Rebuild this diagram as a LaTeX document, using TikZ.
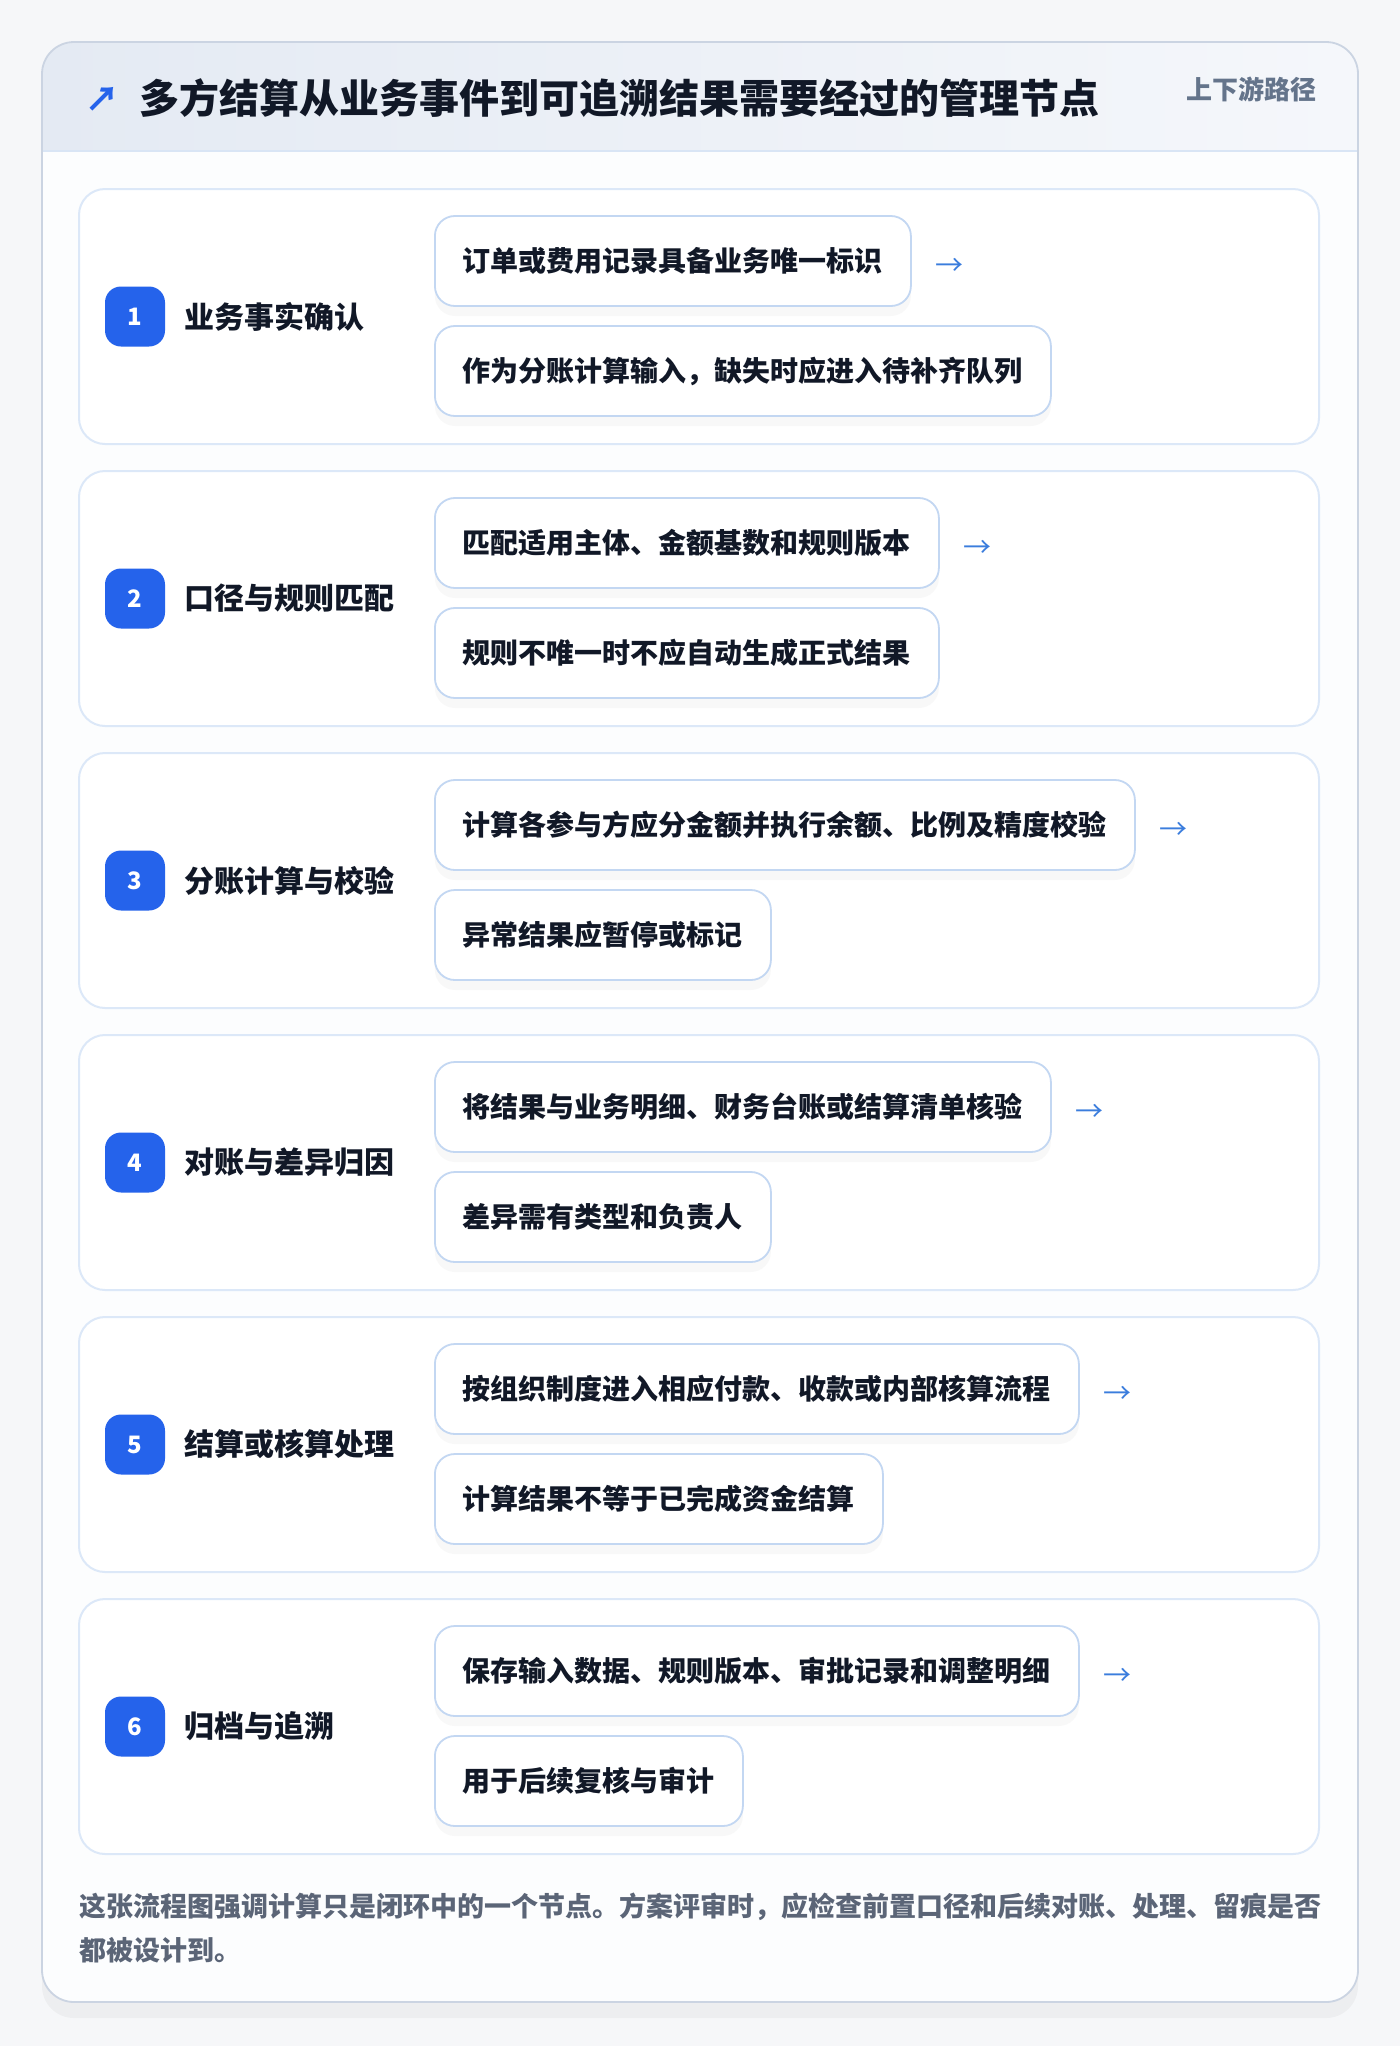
\documentclass[tikz,border=0pt]{standalone}
\usepackage{fontspec}
\setmainfont{Noto Sans CJK SC}
\usetikzlibrary{shadows}

\definecolor{pagebg}{HTML}{F6F7F9}
\definecolor{cardbg}{HTML}{FCFDFE}
\definecolor{cardline}{HTML}{CBD4E2}
\definecolor{headleft}{HTML}{E4EAF3}
\definecolor{headright}{HTML}{F5F7FB}
\definecolor{headline}{HTML}{D9E5F5}
\definecolor{ink}{HTML}{111827}
\definecolor{muted}{HTML}{64748B}
\definecolor{footink}{HTML}{5B6577}
\definecolor{badgeblue}{HTML}{2563EB}
\definecolor{arrowblue}{HTML}{3B7DDD}
\definecolor{stageline}{HTML}{DCE8F8}
\definecolor{boxline}{HTML}{C3D7F2}

\begin{document}
\begin{tikzpicture}[x=0.5pt,y=-0.5pt,
    stage/.style={draw=stageline,line width=1pt,fill=white,rounded corners=13pt,
        minimum width=620pt,minimum height=127.5pt},
    badge/.style={fill=badgeblue,rounded corners=8pt,minimum width=30pt,minimum height=30pt,
        inner sep=0pt,text=white,font=\bfseries\fontsize{12}{12}\selectfont},
    stagelabel/.style={anchor=west,inner sep=0pt,text=ink,font=\bfseries\fontsize{15}{15}\selectfont},
    item/.style={anchor=west,draw=boxline,line width=0.9pt,fill=white,rounded corners=10pt,
        minimum height=45pt,inner xsep=14pt,text=ink,font=\bfseries\fontsize{14}{14}\selectfont,
        drop shadow={opacity=0.05,shadow xshift=0pt,shadow yshift=-5pt}},
    flow/.style={anchor=west,inner sep=0pt,text=arrowblue,font=\fontsize{14}{14}\selectfont},
    note/.style={anchor=west,inner sep=0pt,text=footink,font=\bfseries\fontsize{13.5}{13.5}\selectfont}]

    \useasboundingbox (0,0) rectangle (1400,2046);
    \fill[pagebg] (0,0) rectangle (1400,2046);

    % outer card and header
    \path[fill=cardbg,rounded corners=16pt,
          drop shadow={opacity=0.07,shadow xshift=0pt,shadow yshift=-8pt}]
        (42,42) rectangle (1358,2002);
    \begin{scope}
        \clip[rounded corners=16pt] (42,42) rectangle (1358,2002);
        \shade[left color=headleft,right color=headright] (42,42) rectangle (1358,151);
        \draw[headline,line width=1pt] (42,151) -- (1358,151);
    \end{scope}
    \draw[cardline,line width=0.9pt,rounded corners=16pt] (42,42) rectangle (1358,2002);

    \node[anchor=center,inner sep=0pt,text=badgeblue,font=\bfseries\fontsize{17}{17}\selectfont]
        (icon) at (102,99) {↗};
    \node[anchor=west,inner sep=0pt,text=ink,font=\bfseries\fontsize{20}{20}\selectfont]
        (title) at (139,98) {多方结算从业务事件到可追溯结果需要经过的管理节点};
    \node[anchor=east,inner sep=0pt,text=muted,font=\bfseries\fontsize{13}{13}\selectfont]
        (route) at (1317,89) {上下游路径};

    % stage cards
    \node[stage] (S1) at (699,316.5) {};
    \node[stage] (S2) at (699,598.5) {};
    \node[stage] (S3) at (699,880.5) {};
    \node[stage] (S4) at (699,1162.5) {};
    \node[stage] (S5) at (699,1444.5) {};
    \node[stage] (S6) at (699,1726.5) {};

    % badges and stage names
    \node[badge] (N1) at (135,316.5) {1};
    \node[badge] (N2) at (135,598.5) {2};
    \node[badge] (N3) at (135,880.5) {3};
    \node[badge] (N4) at (135,1162.5) {4};
    \node[badge] (N5) at (135,1444.5) {5};
    \node[badge] (N6) at (135,1726.5) {6};

    \node[stagelabel] (L1) at (184,316.5) {业务事实确认};
    \node[stagelabel] (L2) at (184,598.5) {口径与规则匹配};
    \node[stagelabel] (L3) at (184,880.5) {分账计算与校验};
    \node[stagelabel] (L4) at (184,1162.5) {对账与差异归因};
    \node[stagelabel] (L5) at (184,1444.5) {结算或核算处理};
    \node[stagelabel] (L6) at (184,1726.5) {归档与追溯};

    % items
    \node[item] (B11) at (434,261) {订单或费用记录具备业务唯一标识};
    \node[item] (B12) at (434,371) {作为分账计算输入，缺失时应进入待补齐队列};
    \node[item] (B21) at (434,543) {匹配适用主体、金额基数和规则版本};
    \node[item] (B22) at (434,653) {规则不唯一时不应自动生成正式结果};
    \node[item] (B31) at (434,825) {计算各参与方应分金额并执行余额、比例及精度校验};
    \node[item] (B32) at (434,935) {异常结果应暂停或标记};
    \node[item] (B41) at (434,1107) {将结果与业务明细、财务台账或结算清单核验};
    \node[item] (B42) at (434,1217) {差异需有类型和负责人};
    \node[item] (B51) at (434,1389) {按组织制度进入相应付款、收款或内部核算流程};
    \node[item] (B52) at (434,1499) {计算结果不等于已完成资金结算};
    \node[item] (B61) at (434,1671) {保存输入数据、规则版本、审批记录和调整明细};
    \node[item] (B62) at (434,1781) {用于后续复核与审计};

    % flow arrows
    \node[flow] (A1) at ([xshift=11.5pt,yshift=-3pt]B11.east) {→};
    \node[flow] (A2) at ([xshift=11.5pt,yshift=-3pt]B21.east) {→};
    \node[flow] (A3) at ([xshift=11.5pt,yshift=-3pt]B31.east) {→};
    \node[flow] (A4) at ([xshift=11.5pt,yshift=-3pt]B41.east) {→};
    \node[flow] (A5) at ([xshift=11.5pt,yshift=-3pt]B51.east) {→};
    \node[flow] (A6) at ([xshift=11.5pt,yshift=-3pt]B61.east) {→};

    % footnote
    \node[note] (F1) at (79,1907) {这张流程图强调计算只是闭环中的一个节点。方案评审时，应检查前置口径和后续对账、处理、留痕是否};
    \node[note] (F2) at (79,1950) {都被设计到。};
\end{tikzpicture}
\end{document}
